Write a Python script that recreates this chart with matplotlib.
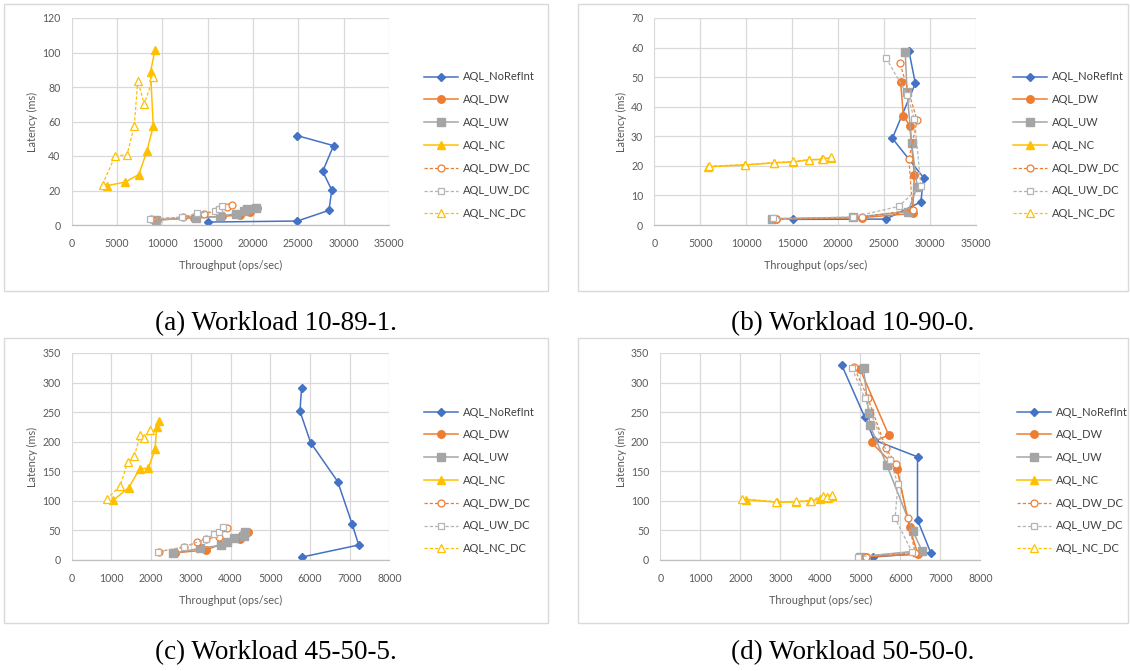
import matplotlib
matplotlib.use("Agg")
import matplotlib.pyplot as plt
from matplotlib.patches import Rectangle

plt.rcParams['font.family'] = ['Lato', 'DejaVu Sans']

W, H = 1130, 671

series_names = ["AQL_NoRefInt", "AQL_DW", "AQL_UW", "AQL_NC", "AQL_DW_DC", "AQL_UW_DC", "AQL_NC_DC"]

# ---- Workload 10-89-1 ----
a_noref_x = [15000, 24900, 28400, 28700, 27700, 28900, 24900]
a_noref_y = [1.7, 2.3, 8.5, 20.3, 31.1, 46.0, 51.8]
a_dw_x = [9400, 13500, 16600, 18600, 19700, 20400]
a_dw_y = [2.9, 4.2, 5.0, 5.8, 7.3, 10.0]
a_uw_x = [9300, 13700, 16400, 18100, 19000, 19400, 20300]
a_uw_y = [2.9, 4.1, 5.0, 6.6, 8.1, 9.1, 10.0]
a_nc_x = [3900, 5900, 7400, 8300, 9000, 8700, 9200]
a_nc_y = [22.8, 24.9, 29.2, 42.7, 57.4, 88.9, 101.4]
a_dwdc_x = [8700, 12300, 14600, 16100, 17100, 17700]
a_dwdc_y = [3.3, 4.6, 6.2, 8.7, 10.4, 11.6]
a_uwdc_x = [8600, 12200, 13800, 15800, 16300, 16600]
a_uwdc_y = [3.3, 4.6, 6.8, 7.9, 9.0, 10.8]
a_ncdc_x = [3400, 4800, 6100, 6900, 7300, 8000, 9000]
a_ncdc_y = [23.4, 40.2, 40.6, 57.4, 83.7, 70.1, 85.6]

# ---- Workload 10-90-0 ----
b_noref_x = [15100, 25200, 29000, 29300, 25900, 28400, 27700]
b_noref_y = [1.9, 2.0, 7.8, 16.0, 29.3, 47.9, 58.9]
b_dw_x = [13200, 22600, 28100, 28300, 27800, 27100, 26800]
b_dw_y = [2.0, 2.5, 3.9, 16.9, 33.5, 36.9, 48.3]
b_uw_x = [12800, 21600, 27600, 28600, 28000, 27500, 27300]
b_uw_y = [2.1, 2.6, 4.5, 13.0, 27.6, 44.9, 58.6]
b_nc_x = [5800, 9900, 13000, 15100, 16800, 18200, 19200]
b_nc_y = [19.7, 20.3, 21.0, 21.3, 22.0, 22.2, 22.8]
b_dwdc_x = [13200, 22600, 28100, 27700, 28600, 26700]
b_dwdc_y = [2.0, 2.6, 5.2, 22.3, 35.4, 54.9]
b_uwdc_x = [12900, 21600, 26600, 29000, 28300, 27500, 25200]
b_uwdc_y = [2.2, 2.7, 6.3, 13.3, 35.9, 44.0, 56.6]
b_ncdc_x = [5900, 9900, 13000, 15100, 16800, 18300, 19200]
b_ncdc_y = [19.9, 20.4, 21.1, 21.5, 22.1, 22.3, 22.9]

# ---- Workload 45-50-5 ----
c_noref_x = [5810, 7230, 7060, 6700, 6020, 5750, 5790]
c_noref_y = [5.1, 25.4, 61.5, 132.7, 198.2, 251.3, 291.4]
c_dw_x = [2600, 3380, 3900, 4250, 4300, 4430]
c_dw_y = [12.0, 17.0, 30.0, 35.0, 42.0, 48.0]
c_uw_x = [2560, 3230, 3760, 3900, 4090, 4350, 4370]
c_uw_y = [11.3, 19.8, 24.8, 31.1, 37.8, 41.2, 48.0]
c_nc_x = [1050, 1440, 1710, 1930, 2100, 2140, 2190]
c_nc_y = [101.1, 122.5, 154.1, 155.3, 187.5, 224.2, 235.5]
c_dwdc_x = [2200, 2840, 3150, 3380, 3710, 3920]
c_dwdc_y = [14.1, 22.0, 29.9, 35.6, 39.5, 53.6]
c_uwdc_x = [2180, 2830, 3380, 3590, 3700, 3800]
c_uwdc_y = [14.1, 22.0, 35.6, 43.5, 48.0, 55.9]
c_ncdc_x = [880, 1220, 1410, 1580, 1720, 1830, 1970]
c_ncdc_y = [102.8, 125.4, 164.9, 175.6, 210.6, 205.5, 219.6]

# ---- Workload 50-50-0 ----
d_noref_x = [5320, 6760, 6430, 6430, 5350, 5110, 4540]
d_noref_y = [5.1, 12.4, 67.7, 174.4, 202.7, 241.6, 329.1]
d_dw_x = [5130, 6440, 6230, 5920, 5280, 5710, 4990]
d_dw_y = [5.6, 9.6, 55.4, 154.6, 198.7, 211.2, 323.5]
d_uw_x = [4980, 6540, 6310, 5660, 5240, 5210, 5080]
d_uw_y = [5.6, 15.8, 49.7, 160.9, 227.5, 248.4, 324.6]
d_nc_x = [2150, 2910, 3400, 3750, 3980, 4180, 4290]
d_nc_y = [102.2, 97.7, 98.2, 99.9, 103.3, 105.6, 109.0]
d_dwdc_x = [5130, 6370, 6190, 5890, 5640, 5190, 4840]
d_dwdc_y = [5.1, 12.4, 70.6, 162.6, 189.1, 273.8, 326.3]
d_uwdc_x = [4950, 6290, 5870, 5940, 5740, 5110, 4790]
d_uwdc_y = [5.6, 14.1, 70.6, 128.7, 169.3, 273.8, 324.6]
d_ncdc_x = [2050, 2900, 3400, 3760, 4060, 4170, 4300]
d_ncdc_y = [103.3, 98.5, 99.0, 100.5, 108.4, 106.5, 109.5]

captions = ["(a) Workload 10-89-1.", "(b) Workload 10-90-0.",
            "(c) Workload 45-50-5.", "(d) Workload 50-50-0."]
x_ticks_top = [0, 5000, 10000, 15000, 20000, 25000, 30000, 35000]
x_ticks_bottom = [0, 1000, 2000, 3000, 4000, 5000, 6000, 7000, 8000]
y_ticks = [[0, 20, 40, 60, 80, 100, 120], [0, 10, 20, 30, 40, 50, 60, 70],
           [0, 50, 100, 150, 200, 250, 300, 350], [0, 50, 100, 150, 200, 250, 300, 350]]

panels = [
    [(a_noref_x, a_noref_y), (a_dw_x, a_dw_y), (a_uw_x, a_uw_y), (a_nc_x, a_nc_y),
     (a_dwdc_x, a_dwdc_y), (a_uwdc_x, a_uwdc_y), (a_ncdc_x, a_ncdc_y)],
    [(b_noref_x, b_noref_y), (b_dw_x, b_dw_y), (b_uw_x, b_uw_y), (b_nc_x, b_nc_y),
     (b_dwdc_x, b_dwdc_y), (b_uwdc_x, b_uwdc_y), (b_ncdc_x, b_ncdc_y)],
    [(c_noref_x, c_noref_y), (c_dw_x, c_dw_y), (c_uw_x, c_uw_y), (c_nc_x, c_nc_y),
     (c_dwdc_x, c_dwdc_y), (c_uwdc_x, c_uwdc_y), (c_ncdc_x, c_ncdc_y)],
    [(d_noref_x, d_noref_y), (d_dw_x, d_dw_y), (d_uw_x, d_uw_y), (d_nc_x, d_nc_y),
     (d_dwdc_x, d_dwdc_y), (d_uwdc_x, d_uwdc_y), (d_ncdc_x, d_ncdc_y)],
]

BLUE, ORANGE, GRAY, YELLOW = "#4472C4", "#ED7D31", "#A5A5A5", "#FFC000"
DASH = (0, (2.6, 1.6))
styles = [
    dict(color=BLUE, marker="D", ms=3.6, mfc=BLUE, mec=BLUE, ls="-", lw=1.1),
    dict(color=ORANGE, marker="o", ms=5.4, mfc=ORANGE, mec=ORANGE, ls="-", lw=1.1),
    dict(color=GRAY, marker="s", ms=5.4, mfc=GRAY, mec=GRAY, ls="-", lw=1.1),
    dict(color=YELLOW, marker="^", ms=5.6, mfc=YELLOW, mec=YELLOW, ls="-", lw=1.1),
    dict(color=ORANGE, marker="o", ms=5.0, mfc="white", mec=ORANGE, mew=0.9, ls=DASH, lw=0.9),
    dict(color="#B4B4B4", marker="s", ms=5.0, mfc="white", mec="#B4B4B4", mew=0.9, ls=DASH, lw=0.9),
    dict(color=YELLOW, marker="^", ms=5.2, mfc="white", mec=YELLOW, mew=0.9, ls=DASH, lw=0.9),
]

TXT = "#595959"
GRID = "#D9D9D9"

# pixel layout: (left, top, right, bottom) of plot areas
ax_px = [(71.7, 18.0, 388.8, 225.0), (654.3, 18.0, 976.0, 225.0),
         (71.7, 353.0, 389.3, 560.0), (660.3, 353.0, 980.3, 560.0)]
box_px = [(4, 4, 548, 291), (578, 4, 1128, 291), (4, 338, 548, 623), (578, 338, 1128, 623)]
legend_px = [(424, 71.5), (1013, 71.5), (424, 406.5), (1017, 406.5)]
caption_px = [(276, 324), (853, 324), (276, 653), (853, 653)]
xlims = [(0, 35000), (0, 35000), (0, 8000), (0, 8000)]

fig = plt.figure(figsize=(W / 100, H / 100), dpi=100)
fig.patch.set_facecolor("white")

for i in range(4):
    bl, bt, br, bb = box_px[i]
    fig.patches.append(Rectangle((bl / W, 1 - bb / H), (br - bl) / W, (bb - bt) / H,
                                 transform=fig.transFigure, fill=False,
                                 edgecolor=GRID, lw=1.0))
    l, t, r, b = ax_px[i]
    ax = fig.add_axes([l / W, 1 - b / H, (r - l) / W, (b - t) / H])
    for (xs, ys), name, st in zip(panels[i], series_names, styles):
        ax.plot(xs, ys, label=name, **st)
    ax.set_xlim(*xlims[i])
    yt = y_ticks[i]
    ax.set_ylim(yt[0], yt[-1])
    ax.set_yticks(yt)
    ax.set_xticks(x_ticks_top if i < 2 else x_ticks_bottom)
    ax.grid(True, color=GRID, lw=0.9)
    ax.set_axisbelow(True)
    for s in ["top", "right", "left"]:
        ax.spines[s].set_visible(False)
    ax.spines["bottom"].set_color("#BFBFBF")
    ax.spines["bottom"].set_linewidth(0.9)
    ax.tick_params(axis="both", length=0, labelsize=7.6, labelcolor=TXT)
    ax.tick_params(axis="x", pad=9.5)
    ax.tick_params(axis="y", pad=8)
    ax.set_xlabel("Throughput (ops/sec)", fontsize=7.8, color=TXT, labelpad=7.5)
    ax.set_ylabel("Latency (ms)", fontsize=7.8, color=TXT, labelpad=3)
    lx, ly = legend_px[i]
    leg = ax.legend(loc="upper left", bbox_to_anchor=(lx / W, 1 - ly / H),
                    bbox_transform=fig.transFigure, frameon=False, fontsize=8,
                    handlelength=3.1, handletextpad=0.4, labelspacing=1.06,
                    borderpad=0, borderaxespad=0)
    for t_ in leg.get_texts():
        t_.set_color("#404040")
    cx, cy = caption_px[i]
    fig.text(cx / W, 1 - cy / H, captions[i], ha="center", va="center",
             fontsize=19.5, family=["Liberation Serif", "DejaVu Serif"], color="black")

fig.savefig("out.png", dpi=100, facecolor="white")
